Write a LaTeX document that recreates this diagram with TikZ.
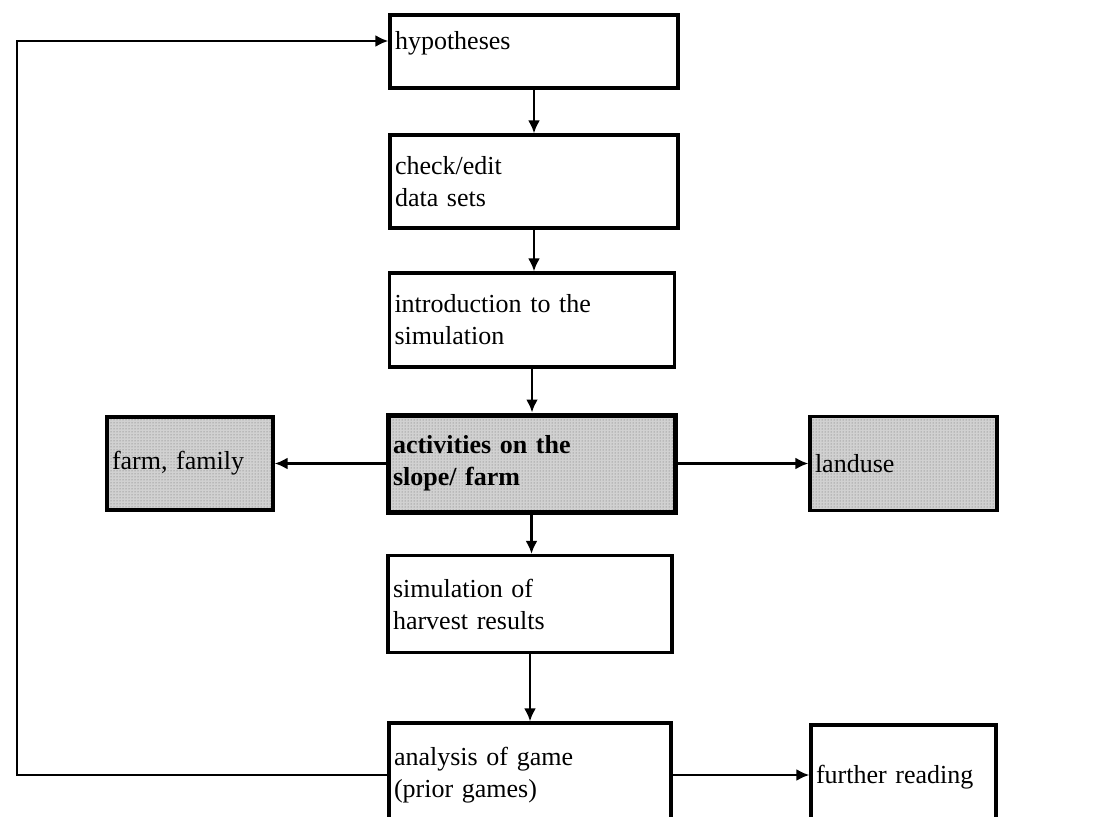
\documentclass[tikz,border=0pt]{standalone}
\usepackage{fontspec}
\setmainfont{Liberation Serif}
\usetikzlibrary{patterns,arrows.meta}
\tikzset{
  box/.style 2 args={draw,line width=3.2pt,rectangle,align=left,inner xsep=5pt,
    text width=#1pt-10pt,minimum height=#2pt,font=\fontsize{26}{32}\selectfont},
  dotted fill/.style={preaction={fill=black!18},pattern=dots,pattern color=black!60},
  flow/.style={-{Latex[length=13pt,width=12pt]},line width=2.8pt},
}
\begin{document}
\begin{tikzpicture}[x=1pt,y=-1pt]
  \clip (0,0) rectangle (1099,816);
  \fill[white] (0,0) rectangle (1099,816);
  \node[box={288}{73},text depth=22pt] (hyp) at (534,51.5) {hypotheses};
  \node[box={288}{93}] (check) at (534,181.5) {check/edit\\data sets};
  \node[box={285}{94}] (intro) at (532,320) {introduction to the\\simulation};
  \node[box={287}{97},dotted fill,line width=5pt,font=\fontsize{26}{32}\selectfont\bfseries] (activ) at (531.5,463.5) {activities on the\\slope/ farm};
  \node[box={166}{93},dotted fill] (farm) at (190,463.5) {farm, family};
  \node[box={187}{94},dotted fill] (landuse) at (903.5,463.5) {landuse};
  \node[box={284}{97}] (harvest) at (530,604) {simulation of\\harvest results};
  \node[box={282}{104}] (analysis) at (530,775) {analysis of game\\(prior games)};
  \node[box={185}{104}] (reading) at (903.5,777) {further reading};
  \coordinate (loop) at (17,41);
  \draw[flow] (hyp.south) -- (check.north);
  \draw[flow] (check.south) -- (check.south |- intro.north);
  \draw[flow] (intro.south) -- (intro.south |- activ.north);
  \draw[flow] (activ.south) -- (activ.south |- harvest.north);
  \draw[flow] (harvest.south) -- (harvest.south |- analysis.north);
  \draw[flow] (activ.west |- farm.east) -- (farm.east);
  \draw[flow] (activ.east |- landuse.west) -- (landuse.west);
  \draw[flow] (analysis.east) -- (analysis.east -| reading.west);
  \draw[flow] (analysis.west) -| (loop) -- (loop -| hyp.west);
\end{tikzpicture}
\end{document}
